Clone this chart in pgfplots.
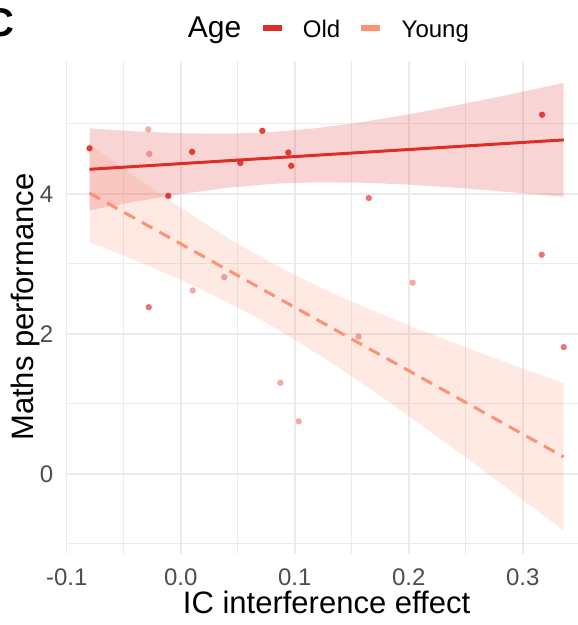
\documentclass[border=0pt]{standalone}
\usepackage{pgfplots}
\pgfplotsset{compat=1.18}
\usepackage{pgfplotstable}
\usepgfplotslibrary{fillbetween}
\usepackage{fontspec}
\setmainfont{Liberation Sans}

\definecolor{oldc}{HTML}{DE2D26}
\definecolor{youngc}{HTML}{FC9272}
\definecolor{gridc}{HTML}{EBEBEB}
\definecolor{tickc}{HTML}{4D4D4D}

\pgfplotstableread{
x lo hi
-0.08 3.765 4.935
-0.04 3.888 4.892
0.00 3.997 4.865
0.04 4.084 4.858
0.08 4.142 4.882
0.12 4.165 4.939
0.16 4.158 5.026
0.20 4.131 5.135
0.24 4.088 5.258
0.28 4.037 5.389
0.336 3.957 5.583
}\oldband

\pgfplotstableread{
x lo hi
-0.08 3.310 4.710
-0.04 3.051 4.245
0.00 2.771 3.799
0.04 2.462 3.384
0.07 2.203 3.099
0.10 1.918 2.840
0.14 1.503 2.531
0.18 1.058 2.252
0.22 0.592 1.992
0.26 0.115 1.745
0.30 -0.371 1.505
0.336 -0.812 1.294
}\youngband

\pgfplotstableread{
x y
-0.080 4.65
0.010 4.60
0.0716 4.90
0.0523 4.44
0.0944 4.59
0.097 4.40
-0.0109 3.97
0.317 5.13
}\ptdark

\pgfplotstableread{
x y
-0.028 2.38
0.3167 3.13
0.165 3.94
0.336 1.81
}\ptmed

\pgfplotstableread{
x y
-0.0284 4.92
-0.0275 4.57
0.0382 2.81
0.0105 2.62
0.2035 2.73
0.156 1.96
0.0874 1.30
0.1035 0.75
}\ptlight

\begin{document}
\begin{tikzpicture}
\begin{axis}[
  at={(0pt,0pt)}, anchor=south west,
  scale only axis, width=511.3pt, height=492.8pt,
  xmin=-0.1, xmax=0.3485, ymin=-1.14, ymax=5.9,
  axis line style={draw=none},
  major tick length=0pt, minor tick length=0pt,
  xtick={-0.1,0,0.1,0.2,0.3}, xticklabels={-0.1,0.0,0.1,0.2,0.3},
  ytick={0,2,4}, yticklabels={0,2,4},
  minor xtick={-0.05,0.05,0.15,0.25}, minor ytick={-1,1,3,5},
  grid=both,
  major grid style={gridc, line width=1.6pt},
  minor grid style={gridc, line width=1.0pt},
  tick label style={font=\fontsize{24}{28}\selectfont, text=tickc},
  xticklabel style={anchor=north, inner sep=0pt, yshift=-14.7pt},
  yticklabel style={anchor=east, inner sep=0pt, xshift=-13.4pt},
  xlabel={IC interference effect},
  ylabel={Maths performance},
  xlabel style={font=\fontsize{31}{36}\selectfont, at={(axis description cs:0.5083,-0.1211)}, anchor=base, inner sep=0pt},
  ylabel style={font=\fontsize{31}{36}\selectfont, at={(axis description cs:-0.0640,0.5)}, anchor=base, inner sep=0pt},
  legend columns=3,
  legend image code/.code={\draw[#1, line width=6.5pt, line cap=butt, solid] (0pt,9pt) -- (19pt,9pt);},
  legend style={
    at={(axis description cs:0.2020,1.0675)}, anchor=west,
    draw=none, fill=none, inner sep=0pt, outer sep=0pt,
    font=\fontsize{24}{28}\selectfont, text=black,
    nodes={inner sep=0pt, anchor=base west},
    /tikz/every odd column/.append style={column sep=18pt},
    /tikz/every even column/.append style={column sep=18pt},
  },
]
\addlegendimage{empty legend}
\addlegendentry{\fontsize{30}{36}\selectfont Age}
\addlegendimage{oldc}
\addlegendentry{Old}
\addlegendimage{youngc}
\addlegendentry{Young}

% confidence ribbons
\addplot[name path=ohi, draw=none, forget plot] table[x=x, y=hi] {\oldband};
\addplot[name path=olo, draw=none, forget plot] table[x=x, y=lo] {\oldband};
\addplot[fill=oldc, fill opacity=0.2, draw=none, forget plot] fill between[of=ohi and olo];

\addplot[name path=yhi, draw=none, forget plot] table[x=x, y=hi] {\youngband};
\addplot[name path=ylo, draw=none, forget plot] table[x=x, y=lo] {\youngband};
\addplot[fill=youngc, fill opacity=0.2, draw=none, forget plot] fill between[of=yhi and ylo];

% fitted lines
\addplot[oldc, line width=3pt, forget plot] coordinates {(-0.08,4.35) (0.336,4.77)};
\addplot[youngc, line width=3pt, dash pattern=on 12pt off 8pt, forget plot] coordinates {(-0.08,4.01) (0.336,0.241)};

% points
\addplot[only marks, mark=*, mark size=3.2pt, color=oldc, mark options={draw opacity=0, fill=oldc, fill opacity=0.9}, forget plot] table[x=x, y=y] {\ptdark};
\addplot[only marks, mark=*, mark size=3.2pt, color=oldc, mark options={draw opacity=0, fill=oldc, fill opacity=0.65}, forget plot] table[x=x, y=y] {\ptmed};
\addplot[only marks, mark=*, mark size=3.2pt, color=oldc, mark options={draw opacity=0, fill=oldc, fill opacity=0.4}, forget plot] table[x=x, y=y] {\ptlight};
\end{axis}
\node[anchor=base east, inner sep=0pt, font=\fontsize{40}{48}\selectfont\bfseries] at (-51.7pt,516.6pt) {C};
\pgfresetboundingbox
\path[use as bounding box] (-66.7pt,-71.4pt) rectangle (511.3pt,553.6pt);
\end{tikzpicture}
\end{document}
